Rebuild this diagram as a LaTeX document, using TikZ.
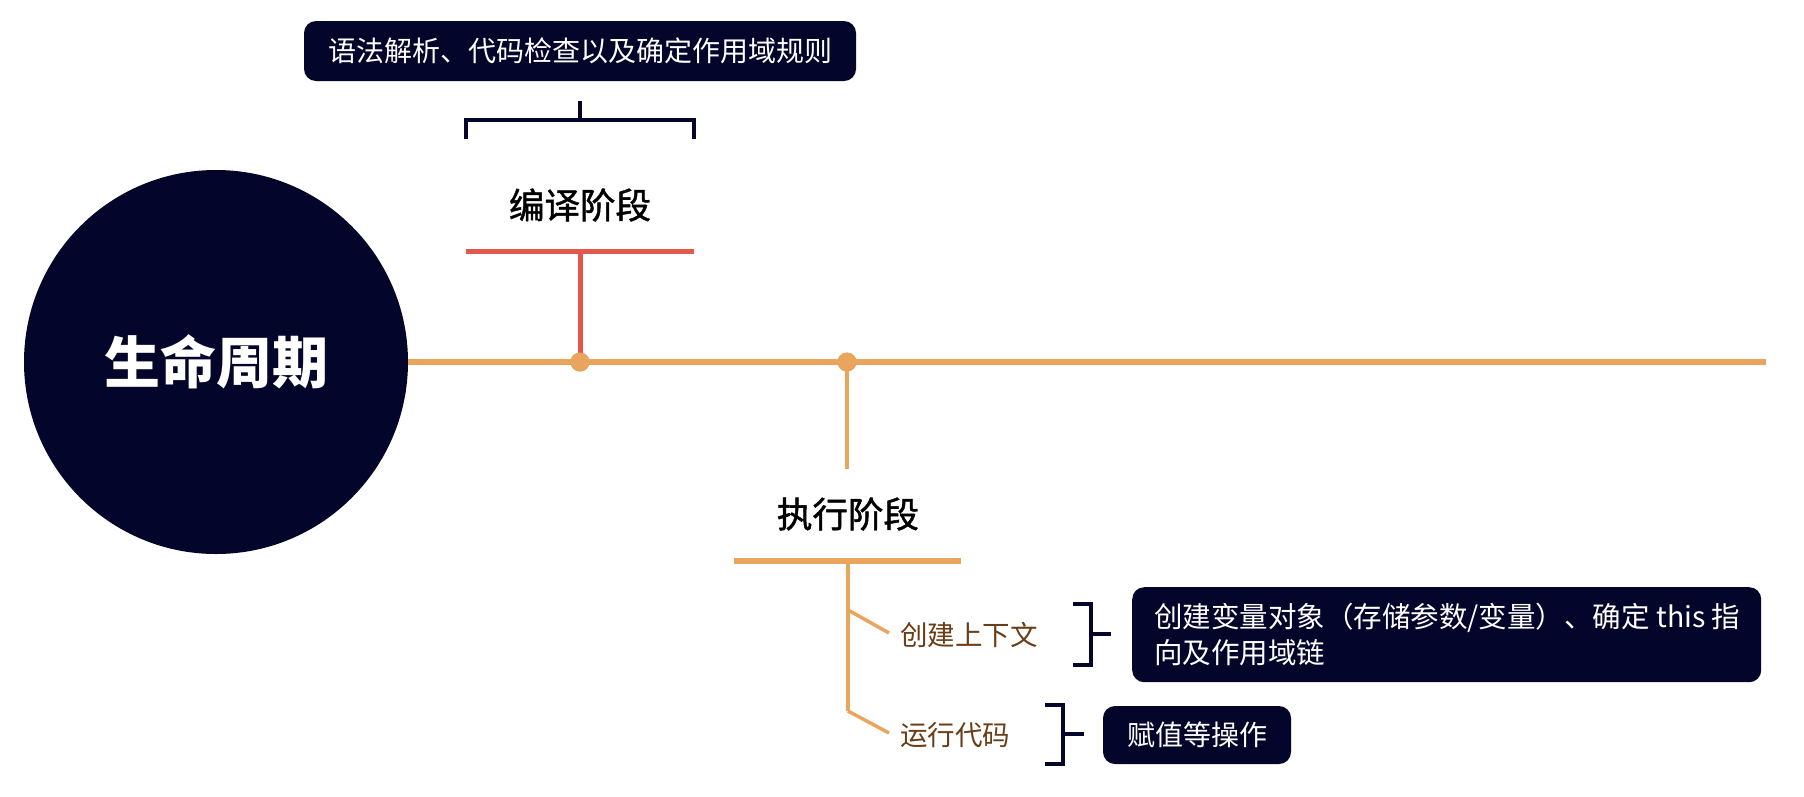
\documentclass[tikz,border=0pt]{standalone}
\usepackage{fontspec}
\setmainfont{Noto Sans CJK SC}
\newfontfamily\medfont[FakeBold=1.3]{Noto Sans CJK SC}
\definecolor{navy}{HTML}{03052A}
\definecolor{orangeC}{HTML}{E9A55E}
\definecolor{redC}{HTML}{E4574A}
\definecolor{brownC}{HTML}{6A3D16}
\tikzset{
  orangeline/.style={draw=orangeC, line width=5.5pt},
  thinorange/.style={draw=orangeC, line width=3.5pt},
  redline/.style={draw=redC, line width=5pt},
  brk/.style={draw=navy, line width=3.5pt},
  dotnode/.style={circle, fill=orangeC, minimum size=19pt, inner sep=0pt},
  darkbox/.style={fill=navy, rounded corners=12pt, text=white, inner sep=0pt},
  phase/.style={font=\medfont\fontsize{35.5}{40}\selectfont, text=black},
  sub/.style={font=\fontsize{27.5}{32}\selectfont, text=brownC, anchor=west, inner sep=0pt},
}
\begin{document}
\begin{tikzpicture}[x=1pt,y=-1pt]
\useasboundingbox[fill=white] (0,0) rectangle (1804,796);
% central circle
\node[circle, fill=navy, minimum size=384pt, inner sep=0pt, text=white,
      font=\fontsize{56}{62}\selectfont\bfseries] (life) at (216,362) {生命周期};
\coordinate (lineend) at (1766,362);
\draw[orangeline] (life.east) -- (lineend);
% compile phase
\coordinate (rtop) at (580,251);
\coordinate (rbl) at (466,251);
\coordinate (rbr) at (694,251);
\draw[redline] (rbl) -- (rbr);
\node[dotnode] (d1) at (580,362) {};
\draw[redline] (d1.center) -- (rtop);
\node[dotnode] at (580,362) {};
\node[phase] (comp) at (580,205) {编译阶段};
\coordinate (b1l) at (466,139);
\coordinate (b1r) at (694,139);
\coordinate (b1m) at (580,120);
\coordinate (b1t) at (580,101);
\draw[brk] (b1l) |- (b1m) -| (b1r);
\draw[brk] (b1m) -- (b1t);
\node[darkbox, minimum width=552pt, minimum height=60pt, font=\fontsize{28}{32}\selectfont]
  (compbox) at (580,51) {语法解析、代码检查以及确定作用域规则};
% execution phase
\node[dotnode] (d2) at (847,362) {};
\coordinate (etop) at (847,469);
\draw[thinorange] (d2.center) -- (etop);
\node[dotnode] at (847,362) {};
\node[phase] (exec) at (848,514) {执行阶段};
\coordinate (ebl) at (734,561);
\coordinate (ebr) at (961,561);
\coordinate (ebm) at (848,561);
\draw[orangeline] (ebl) -- (ebr);
\coordinate (s1) at (848,610);
\coordinate (s2) at (848,711);
\draw[thinorange] (ebm) -- (s2);
\node[sub] (ctx) at (900,635) {创建上下文};
\node[sub] (run) at (900,735) {运行代码};
\draw[thinorange] (s1) -- (889,633);
\draw[thinorange] (s2) -- (889,733);
% bracket 1
\coordinate (k1a) at (1073,604);
\coordinate (k1b) at (1073,665);
\coordinate (k1m) at (1091,634);
\coordinate (k1s) at (1111,634);
\draw[brk] (k1a) -| (k1m) |- (k1b);
\draw[brk] (k1m) -- (k1s);
\node[darkbox, anchor=north west, minimum width=629pt, minimum height=95pt]
  (box1) at (1132,587) {};
\node[anchor=west, align=left, inner sep=0pt, text=white, font=\fontsize{28.5}{36}\selectfont]
  (box1text) at ([xshift=22pt]box1.west) {创建变量对象（存储参数/变量）、确定 this 指\\向及作用域链};
% bracket 2
\coordinate (k2a) at (1045,705);
\coordinate (k2b) at (1045,764);
\coordinate (k2m) at (1063,734);
\coordinate (k2s) at (1084,734);
\draw[brk] (k2a) -| (k2m) |- (k2b);
\draw[brk] (k2m) -- (k2s);
\node[darkbox, minimum width=188pt, minimum height=58pt, font=\fontsize{28}{32}\selectfont]
  (box2) at (1197,735) {赋值等操作};
\end{tikzpicture}
\end{document}
